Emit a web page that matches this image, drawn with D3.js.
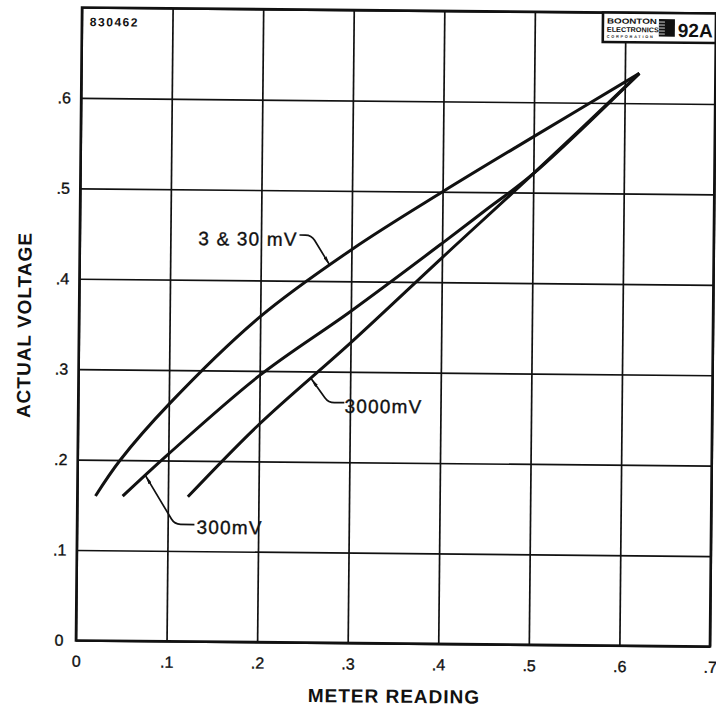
<!DOCTYPE html>
<html>
<head>
<meta charset="utf-8">
<script src="https://cdn.jsdelivr.net/npm/d3@7"></script>
<style>
body{margin:0;background:#fff;}
svg{display:block;font-family:"Liberation Sans",Arial,sans-serif;}
</style>
</head>
<body>
<svg id="chart"></svg>
<script>
// axis ticks
const xTicks = [0, .1, .2, .3, .4, .5, .6, .7]
const xTickLabels = ['0', '.1', '.2', '.3', '.4', '.5', '.6', '.7']
const yTicks = [0, .1, .2, .3, .4, .5, .6, .7]
const yTickLabels = ['0', '.1', '.2', '.3', '.4', '.5', '.6', '']

// meter reading -> actual voltage
const meter3mV = [0.02, 0.047, 0.1, 0.2, 0.3, 0.4, 0.5, 0.616]
const actual3mV = [0.16, 0.2, 0.262, 0.36, 0.435, 0.5, 0.562, 0.633]
const meter300mV = [0.05, 0.1, 0.2, 0.3, 0.4, 0.45, 0.5, 0.616]
const actual300mV = [0.16, 0.207, 0.295, 0.367, 0.443, 0.482, 0.521, 0.633]
const meter3000mV = [0.122, 0.2, 0.3, 0.4, 0.5, 0.616]
const actual3000mV = [0.16, 0.241, 0.332, 0.427, 0.521, 0.633]

const seriesNames = ['3 & 30 mV', '300mV', '3000mV']
// point on each curve that the label arrow touches
const labelTipMeter = [0.276, 0.075, 0.257]
const labelTipActual = [0.418, 0.183, 0.292]

const W = 716, H = 712
const margin = {top: 10.5, right: 3, bottom: 68.5, left: 79}
const w = W - margin.left - margin.right
const h = H - margin.top - margin.bottom
const ink = '#111'

const svg = d3.select('#chart').attr('width', W).attr('height', H)
svg.append('defs').append('marker')
    .attr('id', 'arr')
    .attr('viewBox', '0 0 10 4')
    .attr('refX', 10).attr('refY', 2)
    .attr('markerWidth', 9).attr('markerHeight', 3.6)
    .attr('markerUnits', 'userSpaceOnUse')
    .attr('orient', 'auto')
    .append('path').attr('d', 'M0,0L10,2L0,4Z').attr('fill', ink)

// the scan is turned a little, so the whole sheet is too
const sheet = svg.append('g').attr('transform', 'rotate(0.55,396,327)')
const g = sheet.append('g').attr('transform', `translate(${margin.left},${margin.top})`)

const x = d3.scaleLinear().domain([0, 0.7]).range([0, w])
const y = d3.scaleLinear().domain([0, 0.7]).range([h, 0])

const xAxis = d3.axisBottom(x)
    .tickValues(xTicks)
    .tickSize(-h)
    .tickPadding(15)
    .tickFormat((d, i) => xTickLabels[i])
const yAxis = d3.axisLeft(y)
    .tickValues(yTicks)
    .tickSize(-w)
    .tickFormat((d, i) => yTickLabels[i])

const gx = g.append('g').attr('transform', `translate(0,${h})`).call(xAxis)
const gy = g.append('g').call(yAxis)
;[gx, gy].forEach(a => {
    a.select('.domain').remove()
    a.selectAll('line').attr('stroke', ink).attr('stroke-width', 1.7)
    a.selectAll('text').attr('fill', ink).attr('stroke', ink).attr('stroke-width', 0.35)
        .style('font-size', '16px')
})
gy.selectAll('text').attr('text-anchor', 'middle').attr('x', -17)

// frame
g.append('rect')
    .attr('width', w).attr('height', h)
    .attr('fill', 'none').attr('stroke', ink).attr('stroke-width', 2.6)

// curves
const line = d3.line()
    .x(d => x(d[0]))
    .y(d => y(d[1]))
    .curve(d3.curveCatmullRom.alpha(0.5))

const series = [
    d3.zip(meter3mV, actual3mV),
    d3.zip(meter300mV, actual300mV),
    d3.zip(meter3000mV, actual3000mV)
]
g.selectAll('.curve')
    .data(series)
    .join('path')
    .attr('class', 'curve')
    .attr('d', line)
    .attr('fill', 'none')
    .attr('stroke', ink)
    .attr('stroke-width', 3)
    .attr('stroke-linejoin', 'round')

// labels with leader arrows (offsets in px from the tip)
const leaders = [
    {start: [-30.4, -29.6], corner: [-18.4, -29.6], text: [-32, -18.6], anchor: 'end'},
    {start: [49.4, 48.5], corner: [29.5, 48.3], text: [51.5, 57.6], anchor: 'start'},
    {start: [33.3, 23.7], corner: [17.3, 23.8], text: [33.5, 33.7], anchor: 'start'}
]
function leaderPath(tx, ty, L) {
    const s = [tx + L.start[0], ty + L.start[1]]
    const c = [tx + L.corner[0], ty + L.corner[1]]
    const r = 6
    const u = (a, b) => { const dx = a[0] - b[0], dy = a[1] - b[1], n = Math.hypot(dx, dy); return [dx / n, dy / n] }
    const u1 = u(s, c), u2 = u([tx, ty], c)
    const p1 = [c[0] + u1[0] * r, c[1] + u1[1] * r]
    const p2 = [c[0] + u2[0] * r, c[1] + u2[1] * r]
    return `M${s}L${p1}Q${c} ${p2}L${tx},${ty}`
}
seriesNames.forEach((name, i) => {
    const tx = x(labelTipMeter[i]), ty = y(labelTipActual[i])
    const L = leaders[i]
    g.append('path')
        .attr('d', leaderPath(tx, ty, L))
        .attr('fill', 'none')
        .attr('stroke', ink)
        .attr('stroke-width', 1.7)
        .attr('marker-end', 'url(#arr)')
    g.append('text')
        .attr('x', tx + L.text[0]).attr('y', ty + L.text[1])
        .attr('text-anchor', L.anchor)
        .style('font-size', '19px')
        .style('letter-spacing', '1.2px')
        .attr('fill', ink).attr('stroke', ink).attr('stroke-width', 0.35)
        .text(name)
})

// sheet number
g.append('text')
    .attr('x', 8).attr('y', 18.5)
    .style('font-size', '12px').style('font-weight', 'bold').style('letter-spacing', '1.5px')
    .attr('fill', ink)
    .text('830462')

// maker's box, top right
const logo = g.append('g').attr('transform', `translate(${w - 113},0)`)
logo.append('rect')
    .attr('width', 113).attr('height', 29.5)
    .attr('fill', '#fff').attr('stroke', ink).attr('stroke-width', 2.6)
logo.append('text').attr('x', 4).attr('y', 11)
    .attr('textLength', 50).attr('lengthAdjust', 'spacingAndGlyphs')
    .style('font-size', '7.5px').style('font-weight', 'bold').attr('fill', ink)
    .text('BOONTON')
logo.append('text').attr('x', 4).attr('y', 19.3)
    .attr('textLength', 52).attr('lengthAdjust', 'spacingAndGlyphs')
    .style('font-size', '7px').style('font-weight', 'bold').attr('fill', ink)
    .text('ELECTRONICS')
logo.append('text').attr('x', 4).attr('y', 25.2)
    .attr('textLength', 46).attr('lengthAdjust', 'spacing')
    .style('font-size', '3.8px').style('font-weight', 'bold').attr('fill', ink)
    .text('CORPORATION')
logo.append('rect').attr('x', 56).attr('y', 6).attr('width', 16).attr('height', 17.5).attr('fill', ink)
logo.selectAll('.stripe')
    .data([9, 12, 15, 18, 21])
    .join('line')
    .attr('class', 'stripe')
    .attr('x1', 56).attr('x2', 62)
    .attr('y1', d => d).attr('y2', d => d)
    .attr('stroke', '#fff').attr('stroke-width', 0.8)
logo.append('text').attr('x', 75).attr('y', 23.8)
    .style('font-size', '19px').style('font-weight', 'bold').attr('fill', ink)
    .text('92A')

// axis titles
g.append('text')
    .attr('x', w / 2 + 1.5).attr('y', h + 59.3)
    .attr('text-anchor', 'middle')
    .style('font-size', '19px').style('font-weight', 'bold').style('letter-spacing', '1px')
    .attr('fill', ink)
    .text('METER READING')
g.append('text')
    .attr('transform', `translate(${-48.2},${h / 2 + 1.6}) rotate(-90)`)
    .attr('text-anchor', 'middle')
    .style('font-size', '19px').style('font-weight', 'bold').style('letter-spacing', '1px')
    .attr('fill', ink)
    .text('ACTUAL VOLTAGE')
</script>
</body>
</html>
